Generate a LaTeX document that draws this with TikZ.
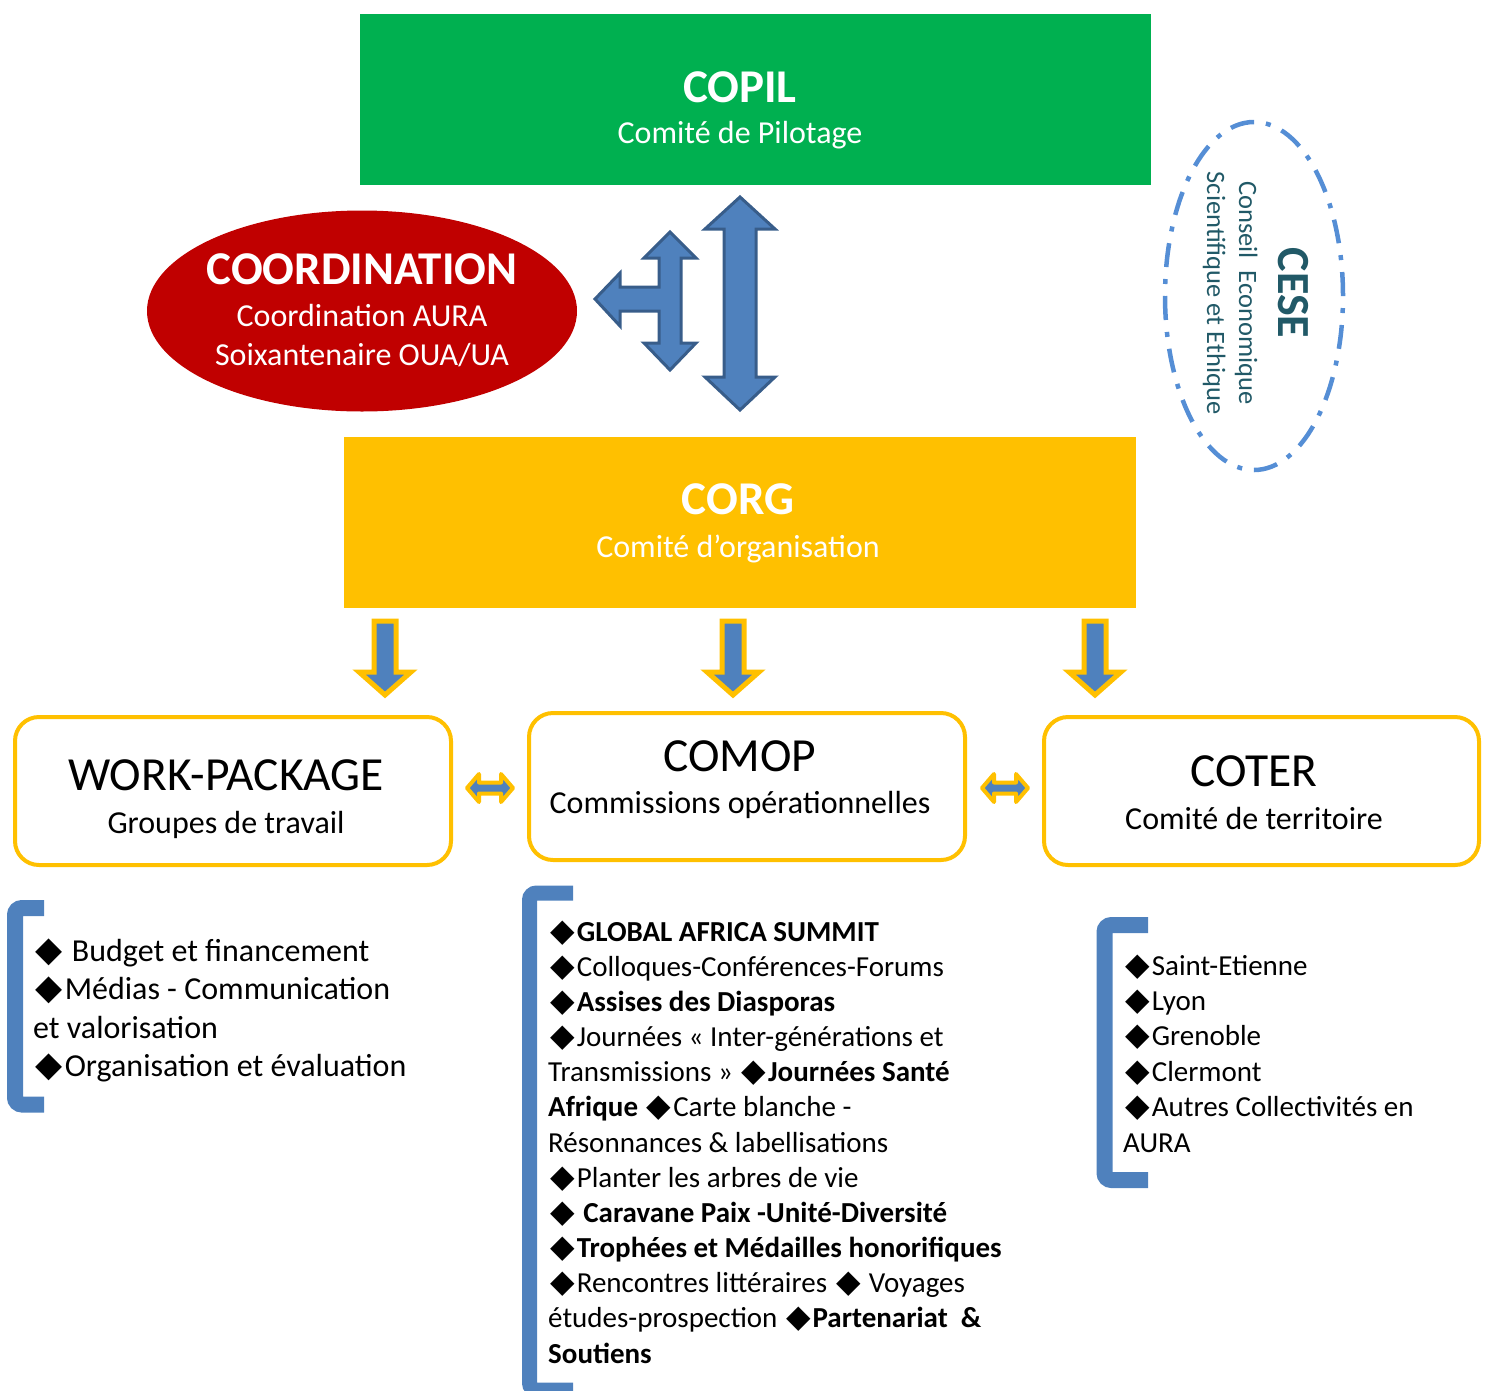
\documentclass[tikz,border=0pt]{standalone}
\usepackage{fontspec}
\usepackage{graphicx}
\setmainfont{Carlito}
\newfontfamily\symf{DejaVu Sans}
\newcommand\dia{\mbox{\kern0.08em\scalebox{1.1}{\symf ◆}\kern0.06em}}
\newcommand\natspace{\spaceskip=0pt\xspaceskip=0pt\relax}
\usetikzlibrary{shapes.geometric}
\definecolor{copilgreen}{HTML}{00B050}
\definecolor{coordred}{HTML}{C00000}
\definecolor{corgor}{HTML}{FFC000}
\definecolor{ablue}{HTML}{4F81BD}
\definecolor{aedge}{HTML}{385D8A}
\definecolor{cesecol}{HTML}{558ED5}
\definecolor{cesetext}{HTML}{215967}
\begin{document}
\begin{tikzpicture}[x=1pt,y=-1pt,
  hd/.style={font=\fontsize{47}{56}\selectfont\bfseries, anchor=base, inner sep=0},
  sub/.style={font=\fontsize{32}{38}\selectfont, anchor=base, inner sep=0},
  big/.style={font=\fontsize{47.5}{54}\selectfont, anchor=base, inner sep=0},
  bigbox/.style={anchor=north west, inner sep=0, outer sep=0},
  wbox/.style={draw=corgor, line width=4, rounded corners=24, fill=white, anchor=north west, inner sep=0, outer sep=0},
  blockarrow/.style={fill=ablue, draw=aedge, line width=3, line join=miter},
  downarrow/.style={fill=ablue, draw=corgor, line width=5, line join=miter},
  sidearrow/.style={fill=ablue, draw=corgor, line width=4, line join=round},
  bracket/.style={draw=ablue, line width=15, rounded corners=7},
  listtext/.style={anchor=base west, inner sep=0, align=left, text width=560}
]
\useasboundingbox (0,0) rectangle (1488,1390);

% --- main boxes
\node[bigbox, fill=copilgreen, minimum width=791, minimum height=171] (copil) at (360,14) {};
\node[hd, text=white] (copilT) at (740,102) {COPIL};
\node[sub, text=white] (copilS) at (740,143) {Comité de Pilotage};

\node[ellipse, fill=coordred, minimum width=430, minimum height=201, inner sep=0] (coord) at (362,311) {};
\node[hd, text=white] (coordT) at (362,284) {COORDINATION};
\node[sub, text=white] (coordS1) at (362,326) {Coordination AURA};
\node[sub, text=white] (coordS2) at (362,365) {Soixantenaire OUA/UA};

\node[bigbox, fill=corgor, minimum width=792, minimum height=171] (corg) at (344,437) {};
\node[hd, text=white] (corgT) at (738,514) {CORG};
\node[sub, text=white] (corgS) at (738,557) {Comité d’organisation};

% --- CESE
\node[ellipse, draw=cesecol, line width=4.5, dash pattern=on 24 off 12 on 5 off 12, minimum width=178, minimum height=348, inner sep=0] (cese) at (1254,296) {};
\node[rotate=-90, anchor=base, inner sep=0, text=cesetext, font=\fontsize{46}{50}\selectfont\bfseries] (ceseT) at (1278,293) {CESE};
\node[rotate=-90, anchor=base, inner sep=0, text=cesetext, font=\fontsize{26.5}{32}\selectfont] (ceseS1) at (1239,293) {Conseil\ \ Economique};
\node[rotate=-90, anchor=base, inner sep=0, text=cesetext, font=\fontsize{26.5}{32}\selectfont] (ceseS2) at (1207,293) {Scientifique et Ethique};

% --- blue block arrows
\draw[blockarrow] (740,197) -- (775,229) -- (756,229) -- (756,377) -- (775,377) -- (740,410)
  -- (705,377) -- (724,377) -- (724,229) -- (705,229) -- cycle;
\draw[blockarrow] (670,232) -- (696,258) -- (681,258) -- (681,343) -- (696,343) -- (670,370)
  -- (644,343) -- (659,343) -- (659,311) -- (620,311) -- (620,326) -- (595,299) -- (620,273)
  -- (620,287) -- (659,287) -- (659,258) -- (644,258) -- cycle;

% --- down arrows
\foreach \cx in {385,733,1095}{
  \draw[downarrow] (\cx-11,621) -- (\cx+11,621) -- (\cx+11,672) -- (\cx+26,672) -- (\cx,695)
    -- (\cx-26,672) -- (\cx-11,672) -- cycle;
}

% --- lower boxes
\node[wbox, minimum width=436, minimum height=148] (wp) at (15,717) {};
\node[big] (wpT) at (226,790) {WORK-PACKAGE};
\node[sub] (wpS) at (226,833) {Groupes de travail};

\node[wbox, minimum width=436, minimum height=147] (comop) at (529,713) {};
\node[big] (comopT) at (740,771) {COMOP};
\node[sub] (comopS) at (740,813) {Commissions opérationnelles};

\node[wbox, minimum width=435, minimum height=148] (coter) at (1044,717) {};
\node[big] (coterT) at (1254,786) {COTER};
\node[sub] (coterS) at (1254,829) {Comité de territoire};

% --- side double arrows
\foreach \cx in {490,1005}{
  \draw[sidearrow] (\cx-23,788) -- (\cx-11,774) -- (\cx-11,782.5) -- (\cx+11,782.5) -- (\cx+11,774)
    -- (\cx+23,788) -- (\cx+11,802) -- (\cx+11,793.5) -- (\cx-11,793.5) -- (\cx-11,802) -- cycle;
}

% --- brackets
\draw[bracket, line width=16] (44,908) -- (15,908) -- (15,1104.5) -- (44,1104.5);
\draw[bracket] (573,893) -- (529.5,893) -- (529.5,1390) -- (573,1390);
\draw[bracket, line width=16] (1148,925) -- (1104.5,925) -- (1104.5,1180) -- (1148,1180);

% --- lists
\node[listtext, font=\fontsize{32}{38.5}\selectfont] (listL) at (33,961) {\natspace
\dia\ Budget et financement\\
\dia Médias - Communication\\
et valorisation\\
\dia Organisation et évaluation};

\node[listtext, font=\fontsize{29}{35.17}\selectfont] (listM) at (548,941) {\natspace
\dia\textbf{GLOBAL AFRICA SUMMIT}\\
\dia Colloques-Conférences-Forums\\
\dia\textbf{Assises des Diasporas}\\
\dia Journées « Inter-générations et\\
Transmissions » \dia\textbf{Journées Santé}\\
\textbf{Afrique} \dia Carte blanche -\\
Résonnances \& labellisations\\
\dia Planter les arbres de vie\\
\dia\ \textbf{Caravane Paix -Unité-Diversité}\\
\dia\textbf{Trophées et Médailles honorifiques}\\
\dia Rencontres littéraires \dia\ Voyages\\
études-prospection \dia\textbf{Partenariat\ \ \&}\\
\textbf{Soutiens}};

\node[listtext, font=\fontsize{29}{35.4}\selectfont] (listR) at (1123,975) {\natspace
\dia Saint-Etienne\\
\dia Lyon\\
\dia Grenoble\\
\dia Clermont\\
\dia Autres Collectivités en\\
AURA};
\end{tikzpicture}
\end{document}
